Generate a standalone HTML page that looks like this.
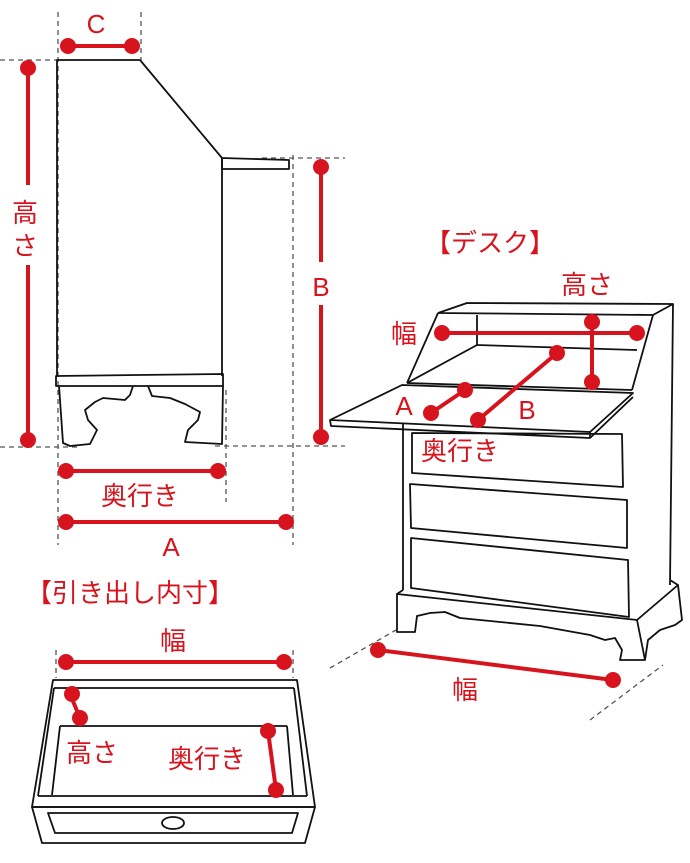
<!DOCTYPE html>
<html><head><meta charset="utf-8"><style>
html,body{margin:0;padding:0;background:#fff}
svg{display:block}
text{font-family:"Liberation Sans","Noto Sans CJK JP",sans-serif;fill:#d7141e}
</style></head><body>
<svg width="690" height="863" viewBox="0 0 690 863" xmlns="http://www.w3.org/2000/svg">
<g fill="none" stroke="#555" stroke-width="1.3" stroke-dasharray="5,4">
<line x1="0" y1="60" x2="57" y2="60"/>
<line x1="58" y1="12" x2="58" y2="545"/>
<line x1="141" y1="12" x2="141" y2="60"/>
<line x1="262" y1="158" x2="345" y2="158"/>
<line x1="293" y1="155" x2="293" y2="545"/>
<line x1="0" y1="447" x2="80" y2="447"/>
<line x1="215" y1="446" x2="345" y2="446"/>
<line x1="226" y1="390" x2="226" y2="502"/>
<line x1="330" y1="668" x2="396" y2="630"/>
<line x1="590" y1="720" x2="663" y2="665"/>
<line x1="56" y1="650" x2="56" y2="678"/>
<line x1="293" y1="650" x2="293" y2="678"/>
</g>
<g fill="none" stroke="#111" stroke-width="1.8" stroke-linejoin="round">
<polyline points="57,376 57,60 140,60 222,158 222,376"/>
<polygon points="222,158 289,160 289,169 222,169"/>
<polygon points="56,376 223,374 223,386 56,386"/>
<polyline points="59,386 63,443 70,446 90,444 97,430 88,420 85,410 95,402 103,398 125,400 130,395 133,386"/>
<polyline points="148,386 152,396 170,398 185,404 200,412 198,420 188,430 185,442 222,444 223,386"/>
<polyline points="438,313 467,303 673,304 653,315 438,313"/>
<line x1="673" y1="304" x2="670" y2="585"/>
<line x1="477" y1="315" x2="477" y2="345"/>
<line x1="477" y1="345" x2="637" y2="350"/>
<line x1="438" y1="313" x2="407" y2="383"/>
<line x1="653" y1="315" x2="632" y2="390"/>
<line x1="407" y1="383" x2="632" y2="390"/>
<line x1="477" y1="345" x2="407" y2="383"/>
<polygon points="330,420 402,385 633,393 590,432"/>
<polyline points="330,420 331,426 590,438 633,397"/>
<line x1="590" y1="432" x2="590" y2="438"/>
<line x1="403" y1="423" x2="403" y2="590"/>
<polygon points="412,433 622,434 623,487 412,473"/>
<polygon points="410,484 627,500 627,548 411,528"/>
<polygon points="411,538 628,560 629,617 411,588"/>
<polyline points="403,590 397,594 637,620 678,585 670,580"/>
<polyline points="397,594 397,632 415,632 417,616 430,613 445,612 460,618 540,626 590,635 605,640 615,638 622,650 620,660 645,660 648,640 660,630 675,625 682,620 678,585"/>
<line x1="637" y1="620" x2="645" y2="660"/>
<polygon points="53,680 297,680 315,807 32,807"/>
<polygon points="32,807 315,807 305,843 42,843"/>
<line x1="54" y1="688" x2="294" y2="688"/>
<line x1="60" y1="726" x2="287" y2="726"/>
<line x1="38" y1="796" x2="307" y2="796"/>
<line x1="52" y1="795" x2="60" y2="726"/>
<line x1="293" y1="795" x2="287" y2="726"/>
<line x1="54" y1="688" x2="38" y2="796"/>
<line x1="294" y1="688" x2="307" y2="796"/>
<polygon points="48,813 298,813 292,833 55,833"/>
<ellipse cx="173" cy="823" rx="11" ry="6"/>
</g>
<g stroke="#d7141e" stroke-width="4" fill="#d7141e">
<line x1="68" y1="46" x2="132" y2="46"/><circle cx="68" cy="46" r="6"/><circle cx="132" cy="46" r="6"/>
<line x1="28" y1="68" x2="28" y2="185"/><line x1="28" y1="265" x2="28" y2="440"/><circle cx="28" cy="68" r="6"/><circle cx="28" cy="440" r="6"/>
<line x1="321" y1="167" x2="321" y2="262"/><line x1="321" y1="305" x2="321" y2="437"/><circle cx="321" cy="167" r="6"/><circle cx="321" cy="437" r="6"/>
<line x1="66" y1="471" x2="218" y2="471"/><circle cx="66" cy="471" r="6"/><circle cx="218" cy="471" r="6"/>
<line x1="66" y1="522" x2="286" y2="522"/><circle cx="66" cy="522" r="6"/><circle cx="286" cy="522" r="6"/>
<line x1="442" y1="333" x2="637" y2="333"/><circle cx="442" cy="333" r="6"/><circle cx="637" cy="333" r="6"/>
<line x1="592" y1="322" x2="592" y2="382"/><circle cx="592" cy="322" r="6"/><circle cx="592" cy="382" r="6"/>
<line x1="557" y1="353" x2="478" y2="420"/><circle cx="557" cy="353" r="6"/><circle cx="478" cy="420" r="6"/>
<line x1="465" y1="390" x2="431" y2="413"/><circle cx="465" cy="390" r="6"/><circle cx="431" cy="413" r="6"/>
<line x1="378" y1="650" x2="613" y2="680"/><circle cx="378" cy="650" r="6"/><circle cx="613" cy="680" r="6"/>
<line x1="66" y1="662" x2="284" y2="662"/><circle cx="66" cy="662" r="6"/><circle cx="284" cy="662" r="6"/>
<line x1="70" y1="694" x2="80" y2="718"/><circle cx="72" cy="694" r="6"/><circle cx="80" cy="718" r="6"/>
<line x1="268" y1="731" x2="276" y2="790"/><circle cx="268" cy="731" r="6"/><circle cx="276" cy="790" r="6"/>
</g>
<g font-size="26" text-anchor="middle">
<text x="96" y="33">C</text>
<text x="25" y="222">高</text><text x="25" y="255">さ</text>
<text x="321" y="296">B</text>
<text x="140" y="505">奥行き</text>
<text x="171" y="556">A</text>
<text x="490" y="252">【デスク】</text>
<text x="587" y="294">高さ</text>
<text x="404" y="343">幅</text>
<text x="404" y="415">A</text>
<text x="527" y="419">B</text>
<text x="460" y="460">奥行き</text>
<text x="465" y="699">幅</text>
<text x="130" y="602">【引き出し内寸】</text>
<text x="173" y="650">幅</text>
<text x="92" y="762">高さ</text>
<text x="207" y="768">奥行き</text>
</g>
</svg>
</body></html>
